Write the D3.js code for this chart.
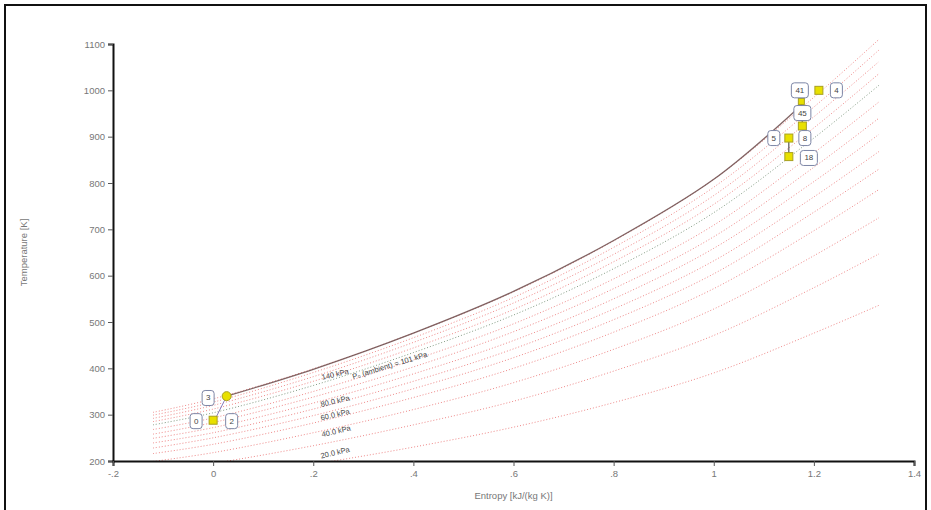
<!DOCTYPE html>
<html>
<head>
<meta charset="utf-8">
<script src="https://cdn.jsdelivr.net/npm/d3@7"></script>
<style>
  body { margin: 0; background: #fff; }
  svg { display: block; font-family: "Liberation Sans", Arial, sans-serif; }
</style>
</head>
<body>
<div id="chart"></div>
<script>
// entropy sample points (kJ/(kg K)) used for every isobar
const entropySamples = [-0.12, 0, 0.2, 0.4, 0.6, 0.8, 1.0, 1.2, 1.33];

// isobars, temperature (K) at each entropy sample
const isobarPressures = [140, 130, 120, 110, 101, 90, 80, 70, 60, 50, 40, 30, 20, 10];
const isobarTemps = [
  [305, 334, 399, 476, 565, 675, 808, 985, 1110],
  [299, 327, 391, 466, 553, 661, 791, 964, 1087],
  [292, 320, 382, 456, 541, 646, 773, 943, 1062],
  [285, 312, 372, 444, 527, 630, 754, 919, 1036],
  [278, 304, 363, 434, 515, 615, 736, 897, 1011],
  [268, 293, 350, 418, 496, 593, 709, 865, 975],
  [258, 283, 338, 403, 479, 572, 684, 834, 940],
  [249, 272, 325, 388, 460, 550, 659, 803, 905],
  [239, 261, 312, 372, 442, 528, 632, 770, 868],
  [228, 250, 298, 356, 423, 505, 604, 737, 830],
  [216, 236, 282, 337, 400, 478, 572, 697, 786],
  [199, 218, 261, 311, 369, 441, 528, 643, 725],
  [178, 195, 233, 278, 329, 394, 471, 574, 647],
  [147, 161, 193, 230, 273, 326, 390, 476, 536]
];
const ambientPressure = 101;

// isobar labels
const isobarLabelText = ["140 kPa", "P\u2080 (ambient) = 101 kPa", "80.0 kPa", "60.0 kPa", "40.0 kPa", "20.0 kPa"];
const isobarLabelS    = [0.244, 0.353, 0.244, 0.244, 0.246, 0.244];
const isobarLabelT    = [386, 405, 328, 299, 263, 217];

// heat addition path 3 -> 41
const heatS = [0.027, 0.2, 0.4, 0.6, 0.8, 1.0, 1.175];
const heatT = [340, 398, 476, 566, 676, 808, 968];

// cycle states
const stateS     = [0.0, 0.027, 1.21, 1.175, 1.177, 1.15, 1.15];
const stateT     = [288, 340, 1000, 976, 923, 897, 857];
const stateShape = ["square", "circle", "square", "small", "square", "square", "square"];

// state labels
const stateLabel  = ["0", "2", "3", "41", "4", "45", "5", "8", "18"];
const stateLabelS = [-0.034, 0.037, -0.01, 1.172, 1.245, 1.177, 1.12, 1.182, 1.19];
const stateLabelT = [286, 286, 336, 1000, 1000, 951, 897, 897, 854];

// thin process segments [s1, T1, s2, T2]
const segCompress = [0.003, 288, 0.027, 340];
const segTurbine  = [1.175, 976, 1.177, 923];
const segNozzle   = [1.15, 897, 1.15, 857];

const xTicks = [-0.2, 0, 0.2, 0.4, 0.6, 0.8, 1.0, 1.2, 1.4];
const xTickLabels = ["-.2", "0", ".2", ".4", ".6", ".8", "1", "1.2", "1.4"];
const yTicks = [200, 300, 400, 500, 600, 700, 800, 900, 1000, 1100];

const W = 931, H = 510;
const margin = { top: 44, right: 17, bottom: 49, left: 113 };

const svg = d3.select("#chart").append("svg")
  .attr("width", W).attr("height", H);

// frame
svg.append("rect")
  .attr("x", 5).attr("y", 5).attr("width", W - 10).attr("height", H)
  .attr("fill", "none").attr("stroke", "#111").attr("stroke-width", 2);

const x = d3.scaleLinear().domain([-0.2, 1.4]).range([margin.left, W - margin.right]);
const y = d3.scaleLinear().domain([200, 1100]).range([H - margin.bottom, margin.top]);

svg.append("clipPath").attr("id", "plot-clip")
  .append("rect")
  .attr("x", margin.left).attr("y", 0)
  .attr("width", W - margin.left - margin.right)
  .attr("height", y(200));

const plot = svg.append("g").attr("clip-path", "url(#plot-clip)");

const line = d3.line()
  .x((d) => x(d[0]))
  .y((d) => y(d[1]))
  .curve(d3.curveCatmullRom.alpha(0.5));

// isobars
isobarTemps.forEach((temps, i) => {
  const pts = entropySamples.map((s, j) => [s, temps[j]]);
  const amb = isobarPressures[i] === ambientPressure;
  plot.append("path")
    .attr("d", line(pts))
    .attr("fill", "none")
    .attr("stroke", amb ? "#6d8a6d" : "#e23a3a")
    .attr("stroke-opacity", amb ? 0.85 : 0.6)
    .attr("stroke-width", 1)
    .attr("stroke-dasharray", "1,2");
});

// heat addition path
plot.append("path")
  .attr("d", line(heatS.map((s, i) => [s, heatT[i]])))
  .attr("fill", "none")
  .attr("stroke", "#6b4a4a")
  .attr("stroke-width", 1.3)
  .attr("stroke-opacity", 0.85);

// process segments
[[segCompress, "#8a7fc0"], [segTurbine, "#444"], [segNozzle, "#333"]].forEach(([sg, c]) => {
  svg.append("line")
    .attr("x1", x(sg[0])).attr("y1", y(sg[1]))
    .attr("x2", x(sg[2])).attr("y2", y(sg[3]))
    .attr("stroke", c).attr("stroke-width", 1);
});

// isobar labels
isobarLabelText.forEach((t, i) => {
  const amb = i === 1;
  svg.append("text")
    .attr("transform", `translate(${x(isobarLabelS[i])},${y(isobarLabelT[i])}) rotate(${amb ? -17 : -13})`)
    .attr("text-anchor", "middle")
    .attr("dominant-baseline", "middle")
    .attr("font-size", "7.5px")
    .attr("fill", "#444")
    .text(t);
});

// axes
const yAxis = svg.append("g")
  .attr("transform", `translate(${margin.left},0)`)
  .call(d3.axisLeft(y).tickValues(yTicks).tickSize(5).tickPadding(3).tickFormat(d3.format("d")));
const xAxis = svg.append("g")
  .attr("transform", `translate(0,${H - margin.bottom})`)
  .call(d3.axisBottom(x).tickValues(xTicks).tickSize(5).tickPadding(4)
    .tickFormat((d, i) => xTickLabels[i]));

[yAxis, xAxis].forEach((g) => {
  g.select(".domain").attr("stroke", "#111").attr("stroke-width", 2);
  g.selectAll(".tick line").attr("stroke", "#555");
  g.selectAll(".tick text").attr("fill", "#777").attr("font-size", "9.5px")
    .attr("font-family", "Liberation Sans, Arial, sans-serif");
});

svg.append("text")
  .attr("transform", `translate(27,${(margin.top + H - margin.bottom) / 2}) rotate(-90)`)
  .attr("text-anchor", "middle")
  .attr("font-size", "9.5px").attr("fill", "#777")
  .text("Temperature [K]");

svg.append("text")
  .attr("x", (margin.left + W - margin.right) / 2).attr("y", 499)
  .attr("text-anchor", "middle")
  .attr("font-size", "9.5px").attr("fill", "#777")
  .text("Entropy [kJ/(kg K)]");

// state markers
stateS.forEach((s, i) => {
  const cx = x(s), cy = y(stateT[i]);
  if (stateShape[i] === "circle") {
    svg.append("circle").attr("cx", cx).attr("cy", cy).attr("r", 4.5)
      .attr("fill", "#e8e000").attr("stroke", "#a8a020").attr("stroke-width", 1);
  } else {
    const sz = stateShape[i] === "small" ? 6 : 8;
    svg.append("rect")
      .attr("x", cx - sz / 2).attr("y", cy - sz / 2)
      .attr("width", sz).attr("height", sz)
      .attr("fill", "#e8e000").attr("stroke", "#a8a020").attr("stroke-width", 1);
  }
});

// state label boxes
stateLabel.forEach((t, i) => {
  const cx = x(stateLabelS[i]), cy = y(stateLabelT[i]);
  const w = t.length > 1 ? 17 : 12, h = 15;
  const g = svg.append("g");
  g.append("rect")
    .attr("x", cx - w / 2).attr("y", cy - h / 2)
    .attr("width", w).attr("height", h).attr("rx", 3)
    .attr("fill", "#fff").attr("stroke", "#7d86a6").attr("stroke-width", 1);
  g.append("text")
    .attr("x", cx).attr("y", cy)
    .attr("text-anchor", "middle").attr("dominant-baseline", "central")
    .attr("font-size", "8px").attr("fill", "#444")
    .text(t);
});
</script>
</body>
</html>
